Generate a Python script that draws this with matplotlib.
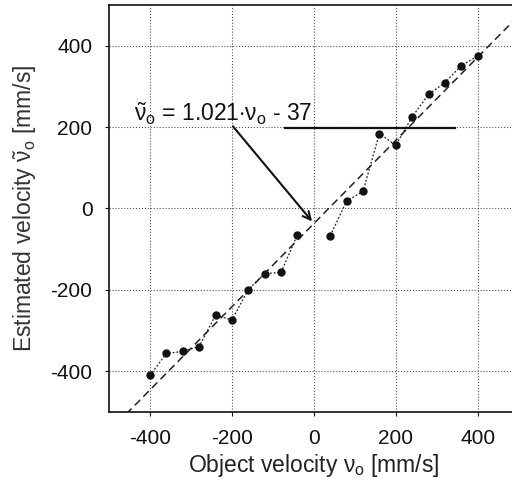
import numpy as np
import matplotlib
matplotlib.use('Agg')
import matplotlib.pyplot as plt

plt.rcParams['font.family'] = ['Liberation Sans', 'DejaVu Sans']
plt.rcParams['mathtext.fontset'] = 'custom'
plt.rcParams['mathtext.rm'] = 'Liberation Sans'
plt.rcParams['mathtext.it'] = 'Liberation Sans'
plt.rcParams['mathtext.bf'] = 'Liberation Sans:bold'
plt.rcParams['axes.unicode_minus'] = False

# datos
v_obj_neg = [-400, -360, -320, -280, -240, -200, -160, -120, -80, -40]
v_est_neg = [-410, -356, -351, -339, -262, -274, -199, -160, -157, -64]
v_obj_pos = [40, 80, 120, 160, 200, 240, 280, 320, 360, 400]
v_est_pos = [-67, 18, 42, 184, 155, 225, 280, 309, 351, 374]
pendiente = 1.021
offset = -37
ticks = [-400, -200, 0, 200, 400]

fig = plt.figure(figsize=(5.12, 4.82), dpi=100)
ax = fig.add_axes([0.213, 0.145, 0.80, 0.845])

# recta de ajuste
xf = np.array([-500, 500])
ax.plot(xf, pendiente * xf + offset, color='#222222', lw=1.1, ls=(0, (5, 3)), zorder=2)

# medidas
for xs, ys in [(v_obj_neg, v_est_neg), (v_obj_pos, v_est_pos)]:
    ax.plot(xs, ys, color='#222222', lw=0.9, ls=(0, (1.5, 1.5)), zorder=3)
    ax.plot(xs, ys, 'o', color='#111111', ms=5, zorder=4)

# anotacion
ax.text(-440, 215, r'$\tilde{\nu}_{\mathrm{o}}$ = 1.021$\cdot\nu_{\mathrm{o}}$ - 37', fontsize=16.5, color='#111111',
        ha='left', va='baseline')
ax.plot([-70, 345], [198, 198], color='#111111', lw=1.6, zorder=5)
ax.annotate('', xy=(0, -37), xytext=(-202, 207),
            arrowprops=dict(arrowstyle='->', color='#111111', lw=1.5, mutation_scale=14))

ax.set_xlim(-500, 500)
ax.set_ylim(-500, 500)
ax.set_xticks(ticks)
ax.set_yticks(ticks)
ax.tick_params(labelsize=15, length=3, direction='out', colors='#111111', pad=9)
ax.grid(True, color='#555555', ls=':', lw=0.8)
for s in ax.spines.values():
    s.set_linewidth(1.2)
    s.set_color('#111111')

ax.set_xlabel(r'Object velocity $\nu_{\mathrm{o}}$ [mm/s]', fontsize=16.5, color='#222222', labelpad=3)
ax.set_ylabel(r'Estimated velocity $\tilde{\nu}_{\mathrm{o}}$ [mm/s]', fontsize=16.5, color='#333333', labelpad=8)

fig.savefig('out.png', dpi=100)
